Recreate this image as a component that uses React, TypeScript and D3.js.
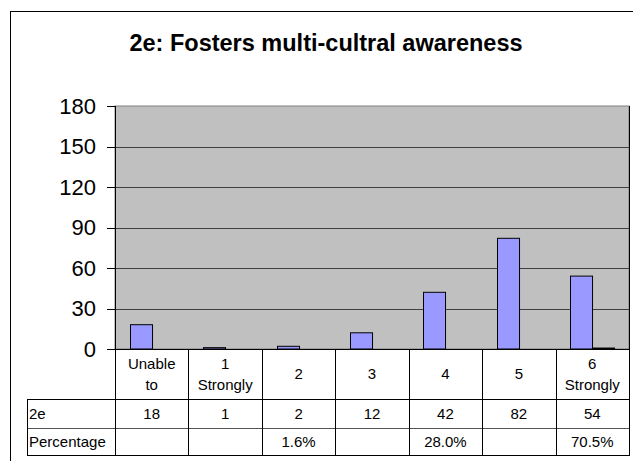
import React from "react";
import * as d3 from "d3";

const categories = ["Unable to", "1 Strongly", "2", "3", "4", "5", "6 Strongly"];
const headerLines = [["Unable", "to"], ["1", "Strongly"], ["2"], ["3"], ["4"], ["5"], ["6", "Strongly"]];
const series = ["2e", "Percentage"];
const countValues = [18, 1, 2, 12, 42, 82, 54];
const pctValues = [0, 0, 0.016, 0, 0.28, 0, 0.705];
const pctLabels = ["", "", "1.6%", "", "28.0%", "", "70.5%"];
const yTicks = [0, 30, 60, 90, 120, 150, 180];
const title = "2e: Fosters multi-cultral awareness";

const W = 633;
const H = 461;
const plotL = 115;
const plotR = 629;
const plotT = 106;
const plotB = 349;
const headerB = 399;
const row1B = 428;
const row2B = 455;
const tableL = 27;
const font = "Arial, 'Liberation Sans', sans-serif";

export default function App() {
  const x0 = d3.scaleBand<string>().domain(categories).range([plotL, plotR]).padding(0);
  const bw = x0.bandwidth();
  const x1 = d3.scaleBand<string>().domain(series).range([bw * 0.2, bw * 0.8]).padding(0);
  const y = d3.scaleLinear().domain([0, 180]).range([plotB, plotT]);
  const colors: Record<string, string> = { "2e": "#9999FF", Percentage: "#993366" };
  const seriesVals: Record<string, number[]> = { "2e": countValues, Percentage: pctValues };
  const lineColor = "#000";

  return (
    <svg width={W} height={H} style={{ position: "absolute", left: 0, top: 0, background: "#fff" }}>
      <rect x={10.5} y={11.5} width={700} height={600} fill="#fff" stroke="#000" strokeWidth={1} />
      <text x={326} y={51} textAnchor="middle" fontFamily={font} fontWeight="bold" fontSize={23.5} fill="#000">
        {title}
      </text>
      {/* plot area */}
      <rect x={plotL} y={plotT} width={plotR - plotL} height={plotB - plotT} fill="#C0C0C0" stroke="#808080" strokeWidth={1} />
      {yTicks.filter((t) => t > 0 && t < 180).map((t) => (
        <line key={t} x1={plotL} x2={plotR} y1={Math.round(y(t)) + 0.5} y2={Math.round(y(t)) + 0.5} stroke="#404040" strokeWidth={1} />
      ))}
      {/* bars */}
      {series.map((s) =>
        categories.map((c, i) => {
          const v = seriesVals[s][i];
          const xx = (x0(c) as number) + (x1(s) as number);
          const top = y(v);
          const h = plotB - top;
          if (h < 0.5) return null;
          return (
            <rect
              key={s + c}
              x={Math.round(xx) + 0.5}
              y={top}
              width={x1.bandwidth()}
              height={h}
              fill={colors[s]}
              stroke="#000"
              strokeWidth={1}
            />
          );
        })
      )}
      {/* y axis */}
      <line x1={plotL + 0.5} x2={plotL + 0.5} y1={plotT} y2={plotB} stroke="#000" />
      {yTicks.map((t) => (
        <g key={t}>
          <line x1={107} x2={plotL} y1={Math.round(y(t)) + 0.5} y2={Math.round(y(t)) + 0.5} stroke="#000" />
          <text x={96} y={y(t)} dy="0.36em" textAnchor="end" fontFamily={font} fontSize={22} fill="#000">
            {t}
          </text>
        </g>
      ))}
      {/* data table */}
      <line x1={plotL} x2={plotR} y1={plotB + 0.5} y2={plotB + 0.5} stroke={lineColor} />
      <line x1={tableL} x2={plotR} y1={headerB + 0.5} y2={headerB + 0.5} stroke={lineColor} />
      <line x1={tableL} x2={plotR} y1={row1B + 0.5} y2={row1B + 0.5} stroke="#555" />
      <line x1={tableL} x2={plotR} y1={row2B + 0.5} y2={row2B + 0.5} stroke={lineColor} />
      <line x1={tableL + 0.5} x2={tableL + 0.5} y1={headerB} y2={row2B + 1} stroke={lineColor} />
      {categories.map((c) => (
        <line key={"v" + c} x1={Math.round(x0(c) as number) + 0.5} x2={Math.round(x0(c) as number) + 0.5} y1={plotB} y2={row2B + 1} stroke={lineColor} />
      ))}
      <line x1={plotR + 0.5} x2={plotR + 0.5} y1={plotT} y2={row2B + 1} stroke={lineColor} />
      {categories.map((c, i) => {
        const cx = (x0(c) as number) + bw / 2;
        const lines = headerLines[i];
        const mid = (plotB + headerB) / 2;
        return (
          <g key={"h" + c} fontFamily={font} fontSize={15} fill="#000" textAnchor="middle">
            {lines.map((l, j) => (
              <text key={j} x={cx} y={lines.length === 1 ? mid : mid + (j - 0.5) * 21} dy="0.36em">
                {l}
              </text>
            ))}
            <text x={cx} y={(headerB + row1B) / 2} dy="0.36em">
              {countValues[i]}
            </text>
            <text x={cx} y={(row1B + row2B) / 2} dy="0.36em">
              {pctLabels[i]}
            </text>
          </g>
        );
      })}
      <text x={tableL + 2} y={(headerB + row1B) / 2} dy="0.36em" fontFamily={font} fontSize={15} fill="#000">
        {series[0]}
      </text>
      <text x={tableL + 2} y={(row1B + row2B) / 2} dy="0.36em" fontFamily={font} fontSize={15} fill="#000">
        {series[1]}
      </text>
    </svg>
  );
}
